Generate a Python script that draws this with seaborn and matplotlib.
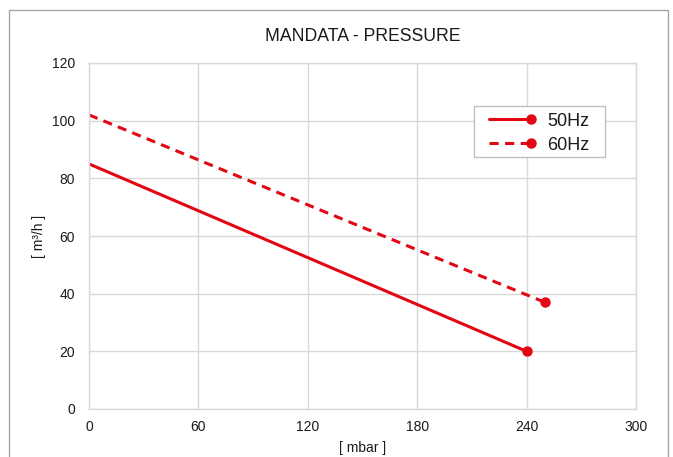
import matplotlib
matplotlib.use("Agg")
import matplotlib.pyplot as plt
import seaborn as sns
import pandas as pd
from matplotlib.lines import Line2D
from matplotlib.legend_handler import HandlerLine2D
from matplotlib.patches import Rectangle

# Data
series_names = ["50Hz", "60Hz"]
pressure_50 = [0, 240]
flow_50 = [85, 20]
pressure_60 = [0, 250]
flow_60 = [102, 37]
x_ticks = [0, 60, 120, 180, 240, 300]
y_ticks = [0, 20, 40, 60, 80, 100, 120]

RED = "#E30613"
GRID = "#D9D9D9"
LW = 2.2
DASH = (0, (3.0, 2.1))
MS = 7.5

sns.set_theme(style="white")
plt.rcParams["font.family"] = ["Liberation Sans", "DejaVu Sans"]
plt.rcParams["text.color"] = "#1a1a1a"
plt.rcParams["axes.labelcolor"] = "#1a1a1a"

W, H = 673, 457
fig = plt.figure(figsize=(W / 100, H / 100), dpi=100)
ax = fig.add_axes([89/W, 1 - 409/H, (636-89)/W, (409-63)/H])

df50 = pd.DataFrame({"x": pressure_50, "y": flow_50})
df60 = pd.DataFrame({"x": pressure_60, "y": flow_60})

sns.lineplot(data=df50, x="x", y="y", ax=ax, color=RED, linewidth=LW,
             marker="o", markersize=MS, markevery=[1], markeredgewidth=0)
sns.lineplot(data=df60, x="x", y="y", ax=ax, color=RED, linewidth=LW,
             linestyle=DASH, marker="o", markersize=MS,
             markevery=[1], markeredgewidth=0)

ax.set_xlim(0, 300)
ax.set_ylim(0, 120)
ax.set_xticks(x_ticks)
ax.set_yticks(y_ticks)
ax.set_xticklabels([str(v) for v in x_ticks])
ax.set_yticklabels([str(v) for v in y_ticks])
ax.tick_params(axis="x", length=0, labelsize=10, colors="#1a1a1a", pad=8)
ax.tick_params(axis="y", length=0, labelsize=10, colors="#1a1a1a", pad=10)
ax.grid(True, color=GRID, linewidth=1)
for s in ax.spines.values():
    s.set_color(GRID)
    s.set_linewidth(1)
ax.set_axisbelow(True)

ax.set_xlabel("[ mbar ]", fontsize=10, labelpad=5)
ax.set_ylabel("[ m³/h ]", fontsize=10, labelpad=4)
ax.set_title("MANDATA - PRESSURE", fontsize=12.7, pad=16, color="#1a1a1a")


class EndMarkerHandler(HandlerLine2D):
    def create_artists(self, legend, orig_handle, xdescent, ydescent,
                       width, height, fontsize, trans):
        arts = super().create_artists(legend, orig_handle, xdescent, ydescent,
                                      width, height, fontsize, trans)
        for a in arts:
            xd = list(a.get_xdata())
            if len(xd) >= 2:
                a.set_markevery([len(xd) - 1])
        return arts


handles = [
    Line2D([], [], color=RED, linewidth=LW, marker="o", markersize=MS, markeredgewidth=0),
    Line2D([], [], color=RED, linewidth=LW, linestyle=DASH, marker="o",
           markersize=MS, markeredgewidth=0),
]
leg = ax.legend(handles, series_names, loc="upper left",
                bbox_to_anchor=((489-89)/547, (409-112.5)/346), fontsize=13,
                frameon=False, handlelength=2.33, handletextpad=0.88,
                borderpad=0, borderaxespad=0, labelspacing=0.4, numpoints=1,
                handler_map={Line2D: EndMarkerHandler()})
for t in leg.get_texts():
    t.set_color("#1a1a1a")

# legend frame
ax.add_patch(Rectangle(((474-89)/547, (409-157)/346), (605-474)/547, (157-105.7)/346,
                       transform=ax.transAxes, fill=True, facecolor="white",
                       edgecolor="#BFBFBF", linewidth=1, zorder=4))
leg.set_zorder(6)

# outer chart border
fig.patches.append(Rectangle((9/W, -0.05), (668-9)/W, 1.05 - 10/H,
                             transform=fig.transFigure, fill=False,
                             edgecolor="#A6A6A6", linewidth=1))

fig.savefig("out.png", dpi=100)
